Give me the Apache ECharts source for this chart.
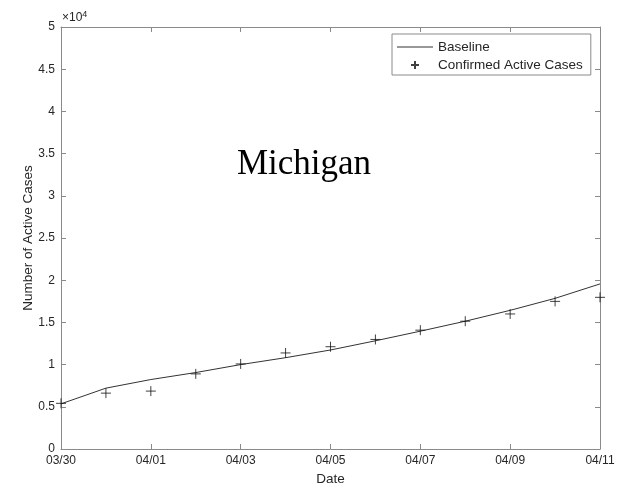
<!DOCTYPE html>
<html>
<head>
<meta charset="utf-8">
<script src="https://cdn.jsdelivr.net/npm/echarts@6/dist/echarts.min.js"></script>
<style>
  html, body { margin: 0; padding: 0; background: #fff; }
  #chart { width: 633px; height: 491px; }
</style>
</head>
<body>
<div id="chart"></div>
<script>
// Daily dates along the x axis (day index 0..12)
const dates = ['03/30','03/31','04/01','04/02','04/03','04/04','04/05',
               '04/06','04/07','04/08','04/09','04/10','04/11'];

// Model baseline, one value per day
const baseline = [5350, 7210, 8230, 9060, 10000, 10820, 11730,
                  12820, 13960, 15140, 16430, 17850, 19560];

// Reported active cases, one value per day
const confirmed = [5410, 6620, 6860, 8900, 10080, 11380, 12120,
                   12980, 14080, 15140, 16000, 17490, 17970];

// Y tick values (in units of 10^4 on the labels)
const yTicks = [0, 5000, 10000, 15000, 20000, 25000, 30000, 35000, 40000, 45000, 50000];

const FONT = 'Liberation Sans';
const AXIS_COLOR = '#8a8a8a';
const TEXT_COLOR = '#262626';
const PLUS = 'path://M5,0L5,10M0,5L10,5';

const chart = echarts.init(document.getElementById('chart'), null, { renderer: 'canvas' });

const tickStyle = { show: true, inside: true, length: 5, lineStyle: { color: AXIS_COLOR, width: 1 } };
const lineStyle = { show: true, onZero: false, lineStyle: { color: AXIS_COLOR, width: 1 } };

chart.setOption({
  backgroundColor: '#fff',
  animation: false,
  grid: { left: 61, right: 33, top: 27, bottom: 39, containLabel: false },
  xAxis: [{
    type: 'value', min: 0, max: dates.length - 1, interval: 2,
    name: 'Date', nameLocation: 'middle', nameGap: 23,
    nameTextStyle: { fontFamily: FONT, fontSize: 13.5, color: TEXT_COLOR },
    axisLine: lineStyle, axisTick: tickStyle, splitLine: { show: false },
    axisLabel: { fontFamily: FONT, fontSize: 12, color: TEXT_COLOR, margin: 6,
                 formatter: v => dates[v] }
  }, {
    type: 'value', position: 'top', min: 0, max: dates.length - 1, interval: 2,
    axisLine: lineStyle, axisTick: tickStyle, axisLabel: { show: false }, splitLine: { show: false }
  }],
  yAxis: [{
    type: 'value', min: yTicks[0], max: yTicks[yTicks.length - 1], interval: yTicks[1] - yTicks[0],
    name: 'Number of Active Cases', nameLocation: 'middle', nameGap: 26, nameMoveOverlap: false,
    nameTextStyle: { fontFamily: FONT, fontSize: 13.5, color: TEXT_COLOR },
    axisLine: lineStyle, axisTick: tickStyle, splitLine: { show: false },
    axisLabel: { fontFamily: FONT, fontSize: 12, color: TEXT_COLOR, margin: 6,
                 formatter: v => String(+(v / 10000).toFixed(1)) }
  }, {
    type: 'value', position: 'right', min: yTicks[0], max: yTicks[yTicks.length - 1],
    interval: yTicks[1] - yTicks[0],
    axisLine: lineStyle, axisTick: tickStyle, axisLabel: { show: false }, splitLine: { show: false }
  }],
  legend: {
    orient: 'vertical', left: 392, top: 34,
    padding: [6, 8, 3, 5], itemGap: 4, itemWidth: 36, itemHeight: 8,
    symbolKeepAspect: true,
    borderColor: AXIS_COLOR, borderWidth: 1, backgroundColor: '#fff',
    textStyle: { fontFamily: FONT, fontSize: 13.5, color: TEXT_COLOR },
    data: [
      { name: 'Baseline', icon: 'path://M0,0L36,0L36,1L0,1Z' },
      { name: 'Confirmed Active Cases', icon: PLUS }
    ]
  },
  graphic: [{
    type: 'text', left: 62, top: 10,
    style: {
      text: '×10{sup|4}', fill: TEXT_COLOR, font: '12px ' + FONT,
      rich: { sup: { fontSize: 9, fontFamily: FONT, verticalAlign: 'top', padding: [0, 0, 7, 0], fill: TEXT_COLOR } }
    }
  }, {
    type: 'text', x: 304, y: 165,
    style: { text: 'Michigan', fill: '#000', font: '35px "Liberation Serif"',
             textAlign: 'center', textVerticalAlign: 'middle' }
  }],
  series: [{
    name: 'Baseline', type: 'line', symbol: 'none',
    lineStyle: { color: '#333', width: 1 }, itemStyle: { color: '#333' },
    data: baseline.map((v, i) => [i, v]), z: 2
  }, {
    name: 'Confirmed Active Cases', type: 'scatter',
    symbol: PLUS, symbolSize: 10, symbolKeepAspect: true,
    itemStyle: { color: 'none', borderColor: '#111', borderWidth: 1 },
    data: confirmed.map((v, i) => [i, v]), z: 3
  }]
});
</script>
</body>
</html>
